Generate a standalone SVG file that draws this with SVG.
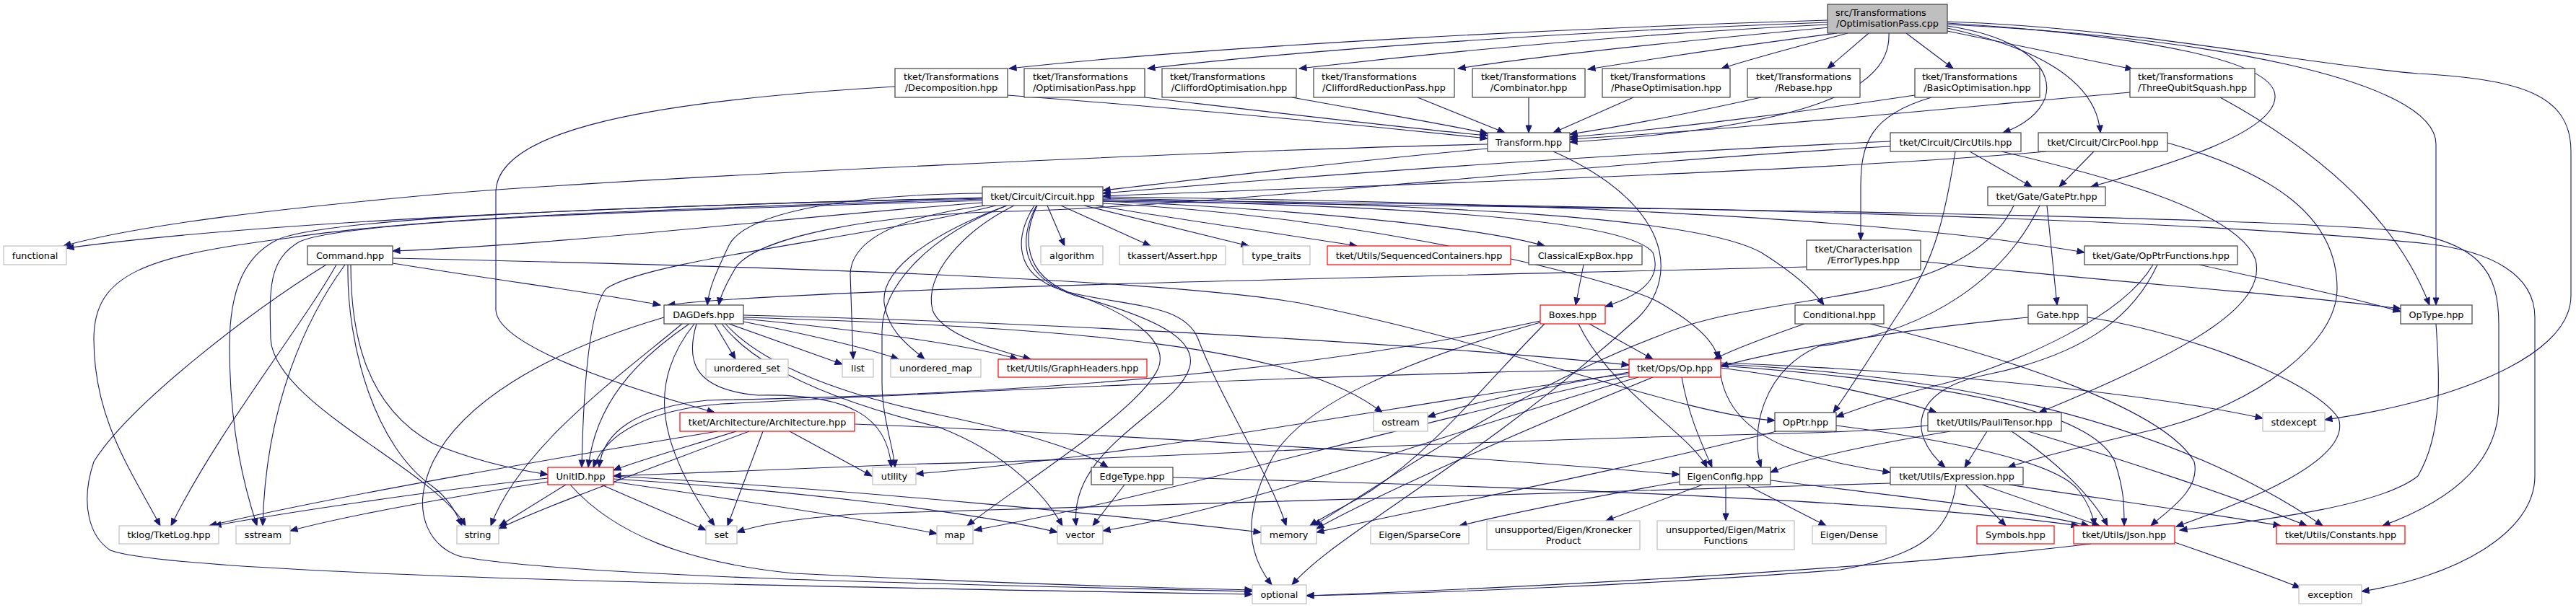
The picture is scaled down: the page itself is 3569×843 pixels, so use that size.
<svg xmlns="http://www.w3.org/2000/svg" width="3569" height="843" viewBox="0 0 3569 843">
<defs>
<marker id="arr" markerWidth="10" markerHeight="8" refX="10" refY="4" orient="auto" markerUnits="userSpaceOnUse" overflow="visible"><path d="M0,0 L10,4 L0,8 z" fill="#191970" stroke="#191970" stroke-width="1"/></marker>
<style>
text{font-family:"DejaVu Sans","Liberation Sans",sans-serif;font-size:12.8px;text-anchor:middle;fill:#000}
text.l{text-anchor:start}
g rect{fill:#fff;stroke:#404040;stroke-width:1.2}
g.g rect{stroke:#bfbfbf}
g.r rect{stroke:#ff0000}
#edges path{fill:none;stroke:#191970;stroke-width:1.1;marker-end:url(#arr)}
</style>
</defs>
<rect x="0" y="0" width="3569" height="843" style="fill:#fff;stroke:none"/>
<g id="edges">
<path d="M2532,28 C2200,38 1700,62 1398,95"/>
<path d="M2532,31 C2150,45 1800,70 1590,95"/>
<path d="M2532,34 C2250,48 2000,72 1800,95"/>
<path d="M2535,38 C2350,55 2150,75 2020,95"/>
<path d="M2545,46 C2420,62 2300,80 2200,96"/>
<path d="M2560,46 C2500,62 2430,80 2385,95"/>
<path d="M2589,46 L2532,95"/>
<path d="M2641,46 L2706,95"/>
<path d="M2698,43 L2955,96"/>
<path d="M2617,46 C2620,120 2520,175 2175,197"/>
<path d="M2698,36 C2860,60 2870,150 2775,184"/>
<path d="M2698,39 C2840,70 2905,120 2910,184"/>
<path d="M2698,32 C2980,50 3155,85 3152,135 C3150,185 3000,230 2897,259"/>
<path d="M2698,34 C3050,50 3375,110 3375,200 L3375,423"/>
<path d="M2698,30 C2950,38 3200,90 3350,102 C3490,110 3562,130 3562,210 L3562,410 C3562,500 3380,560 3221,582"/>
<path d="M1396,132 C1700,155 1900,175 2061,192"/>
<path d="M1586,135 C1800,160 1950,178 2061,188"/>
<path d="M1790,135 C1900,155 2000,172 2061,185"/>
<path d="M1964,135 L2085,184"/>
<path d="M2118,135 L2118,184"/>
<path d="M2263,135 L2152,184"/>
<path d="M2440,135 C2350,155 2250,175 2175,186"/>
<path d="M2653,132 C2500,155 2300,180 2175,190"/>
<path d="M2951,128 C2700,150 2400,180 2175,193"/>
<path d="M1240,120 C900,140 690,180 687,265 L687,430 C690,480 860,535 990,572"/>
<path d="M2676,135 C2590,160 2578,200 2578,260 L2578,333"/>
<path d="M3076,135 C3250,230 3330,330 3366,423"/>
<path d="M2061,206 C1850,225 1650,250 1528,264"/>
<path d="M2061,200 C1700,208 900,245 600,270 C400,288 200,310 88,341"/>
<path d="M2152,210 C2310,280 2330,380 2270,440 C2050,640 1850,740 1790,811"/>
<path d="M2619,196 C2200,215 1800,245 1528,268"/>
<path d="M2835,210 C2500,240 1800,260 1528,272"/>
<path d="M1361,281 C1100,300 800,338 544,348"/>
<path d="M1361,268 C1150,270 1030,300 1010,340 C992,378 982,400 980,423"/>
<path d="M1361,275 C1000,282 400,302 92,344"/>
<path d="M1451,285 L1475,341"/>
<path d="M1470,285 L1594,341"/>
<path d="M1502,285 L1730,341"/>
<path d="M1518,285 C1620,302 1760,322 1880,341"/>
<path d="M1528,279 C1800,290 2050,315 2140,341"/>
<path d="M1528,277 C1900,285 2250,300 2290,350 C2305,390 2265,412 2224,425"/>
<path d="M1528,275 C2000,284 2350,300 2440,350 C2480,375 2510,400 2527,423"/>
<path d="M1528,273 C2100,280 2600,300 2888,350"/>
<path d="M1528,279 C2200,288 3000,296 3300,318 C3440,330 3462,380 3462,450 L3462,560 C3462,650 3380,700 3301,729"/>
<path d="M1528,277 C2200,284 3000,300 3363,338 C3450,348 3512,380 3512,440 L3512,660 C3512,740 3400,800 3272,820"/>
<path d="M1361,276 C1000,288 600,298 400,330 C200,355 130,380 130,470 C130,580 180,650 222,729"/>
<path d="M1361,274 C900,286 450,300 383,333 C340,355 318,400 318,480 C318,600 340,680 356,729"/>
<path d="M1361,278 C900,292 480,305 415,335 C372,360 373,400 375,470 C380,560 600,650 645,729"/>
<path d="M1380,285 C1200,330 900,360 840,400 C815,430 808,550 806,648"/>
<path d="M1365,285 C1250,300 1180,330 1178,380 L1182,498"/>
<path d="M1395,285 C1300,320 1220,370 1225,420 C1230,460 1260,480 1281,498"/>
<path d="M1405,285 C1335,320 1280,380 1292,430 C1305,465 1380,485 1428,498"/>
<path d="M1433,285 C1405,330 1405,380 1470,402 C1560,430 1620,470 1605,510 C1580,570 1400,680 1340,729"/>
<path d="M1436,285 C1410,335 1415,385 1490,410 C1600,440 1660,470 1648,510 C1630,570 1480,620 1491,729"/>
<path d="M1437,285 C1415,330 1420,380 1480,405 C1560,425 1640,420 1660,470 C1690,550 1760,660 1782,729"/>
<path d="M1395,285 C1280,330 1222,400 1222,460 L1222,530 C1222,580 1238,620 1240,648"/>
<path d="M1528,282 C1900,300 2250,390 2300,420 C2360,455 2378,480 2380,498"/>
<path d="M544,365 C700,390 850,410 915,423"/>
<path d="M466,367 C420,450 300,600 237,729"/>
<path d="M478,367 C425,440 368,560 364,729"/>
<path d="M452,367 C350,430 180,560 130,640 C110,700 125,745 153,763 C250,800 1200,815 1735,824"/>
<path d="M486,367 C486,450 500,560 600,615 C660,640 720,652 759,658"/>
<path d="M482,367 C480,480 520,620 600,675 C620,690 632,710 640,729"/>
<path d="M544,358 C1000,368 1600,385 1800,420 C2100,480 2330,575 2459,583"/>
<path d="M990,449 L1019,498"/>
<path d="M1010,449 L1167,505"/>
<path d="M1030,446 C1100,460 1200,482 1245,498"/>
<path d="M1030,442 C1200,458 1350,480 1410,498"/>
<path d="M1030,437 C1500,448 2000,480 2257,506"/>
<path d="M1005,449 C1060,510 1180,550 1300,575 C1420,600 1500,625 1535,648"/>
<path d="M955,449 C880,500 825,560 815,648"/>
<path d="M945,449 C860,520 720,620 680,729"/>
<path d="M962,449 C905,520 900,600 990,729"/>
<path d="M965,449 C950,500 960,540 1050,548 C1180,545 1230,580 1235,648"/>
<path d="M920,440 C750,490 640,560 600,640 C565,715 600,762 640,772 C800,800 1300,810 1735,820"/>
<path d="M1000,449 C1050,515 1170,560 1300,592 C1400,630 1450,690 1472,729"/>
<path d="M1030,440 C1500,455 1800,480 1915,572"/>
<path d="M2503,370 C1900,385 1100,400 925,423"/>
<path d="M2661,362 C2900,390 3150,405 3326,428"/>
<path d="M2194,367 L2183,423"/>
<path d="M2836,285 L2850,423"/>
<path d="M2826,285 C2780,380 2680,460 2520,480 C2440,515 2425,600 2440,648"/>
<path d="M2790,285 C2720,430 2450,400 2300,465 C2100,540 1900,680 1820,729"/>
<path d="M2729,210 L2815,259"/>
<path d="M2619,203 C2200,225 1700,285 1400,293 C1200,298 1050,330 1020,370 C1005,395 998,410 996,423"/>
<path d="M2709,210 C2695,300 2680,360 2640,420 C2600,480 2570,530 2540,572"/>
<path d="M2773,210 C2900,240 3100,290 3125,360 C3140,420 3050,480 2825,572"/>
<path d="M2901,210 L2853,259"/>
<path d="M3003,198 C3150,240 3238,300 3238,400 C3238,480 3120,560 3000,592 C2900,615 2830,632 2782,648"/>
<path d="M3047,367 C3150,390 3250,410 3326,432"/>
<path d="M2983,367 C2940,440 2800,500 2700,530 C2620,550 2580,565 2544,578"/>
<path d="M2989,367 C2960,430 2900,490 2750,520 C2650,540 2640,600 2695,648"/>
<path d="M2810,440 C2600,460 2450,490 2384,508"/>
<path d="M2892,440 C3000,455 3200,520 3240,580 C3260,640 3100,700 3015,730"/>
<path d="M2500,449 C2440,470 2400,485 2375,498"/>
<path d="M2591,449 C2800,500 3000,570 3040,640 C3050,680 3000,710 2980,729"/>
<path d="M2202,449 L2290,498"/>
<path d="M2187,449 C2230,540 2340,600 2365,648"/>
<path d="M2134,445 C1700,540 1200,550 980,555 C880,565 835,600 830,648"/>
<path d="M2140,449 C2050,540 1990,620 1900,680 C1860,705 1835,715 1815,729"/>
<path d="M2134,447 C1950,500 1800,560 1760,640 C1720,720 1730,770 1762,811"/>
<path d="M2257,516 C2150,535 2050,555 1978,578"/>
<path d="M2330,523 C2340,580 2360,620 2372,648"/>
<path d="M2384,520 C2400,620 2530,640 2619,655"/>
<path d="M2384,510 C2500,525 2620,550 2683,572"/>
<path d="M2384,507 C2700,530 2900,570 2930,640 C2943,680 2943,700 2943,729"/>
<path d="M2384,505 C2700,520 3000,580 3218,729"/>
<path d="M2384,503 C2700,515 3000,550 3135,580"/>
<path d="M2257,518 C2000,550 1600,630 1269,657"/>
<path d="M2257,512 C1800,520 1300,545 1000,560 C900,568 840,600 822,648"/>
<path d="M2257,521 C1900,600 1600,690 1350,735"/>
<path d="M2270,523 C2000,600 1750,700 1528,736"/>
<path d="M2290,523 C2100,600 1900,690 1824,733"/>
<path d="M2702,598 C2600,615 2500,635 2453,655"/>
<path d="M2753,598 L2722,648"/>
<path d="M2787,598 C2850,640 2900,690 2920,729"/>
<path d="M2810,598 C2950,640 3100,690 3196,729"/>
<path d="M2671,590 C2600,598 2500,601 2400,603 C1900,615 1500,640 1280,643 C1100,650 950,655 850,660"/>
<path d="M2746,672 L2909,729"/>
<path d="M2723,672 L2779,729"/>
<path d="M2783,672 C2900,690 3050,710 3160,729"/>
<path d="M2710,672 C2700,740 2660,770 2550,790 C2300,810 2000,822 1810,826"/>
<path d="M2619,670 C2000,690 1500,700 1200,712 C1100,718 1050,728 1021,738"/>
<path d="M2327,668 C2200,690 2100,710 2022,729"/>
<path d="M2359,672 L2225,722"/>
<path d="M2391,672 L2391,722"/>
<path d="M2419,672 L2530,729"/>
<path d="M2453,666 C2650,690 2820,710 2894,729"/>
<path d="M2544,590 C2700,610 2850,640 2880,680 C2895,700 2900,715 2902,729"/>
<path d="M2461,598 C2300,640 2000,700 1824,738"/>
<path d="M1020,598 C950,620 880,640 850,652"/>
<path d="M1038,598 C900,650 760,700 691,733"/>
<path d="M1057,598 L1008,729"/>
<path d="M994,598 C800,630 450,690 290,729"/>
<path d="M1094,598 L1208,660"/>
<path d="M1184,588 C1500,600 2000,630 2327,658"/>
<path d="M759,663 C600,680 400,710 296,729"/>
<path d="M759,668 C620,690 480,715 402,736"/>
<path d="M784,672 L692,729"/>
<path d="M833,672 L978,735"/>
<path d="M790,672 C850,740 950,780 1100,795 C1400,810 1600,815 1735,818"/>
<path d="M850,668 C1000,690 1200,720 1298,740"/>
<path d="M850,664 C1100,680 1350,710 1465,738"/>
<path d="M850,660 C1200,680 1550,715 1747,738"/>
<path d="M1558,672 L1514,729"/>
<path d="M1625,662 C2000,672 2600,690 2880,729"/>
<path d="M2897,754 C2600,790 2100,815 1810,826"/>
<path d="M3013,752 C3080,775 3150,800 3187,815"/>
<path d="M3375,449 C3380,520 3385,600 3350,660 C3300,700 3150,720 3020,735"/>
</g>
<g id="node-root"><rect x="2532" y="6" width="166" height="40" style="fill:#bfbfbf"/><text class="l" x="2543" y="22">src/Transformations</text><text x="2615" y="37">/OptimisationPass.cpp</text></g>
<g id="node-decomposition"><rect x="1240" y="95" width="156" height="40"/><text x="1318" y="111">tket/Transformations</text><text x="1318" y="126">/Decomposition.hpp</text></g>
<g id="node-optpass"><rect x="1419" y="95" width="167" height="40"/><text class="l" x="1431" y="111">tket/Transformations</text><text x="1502.5" y="126">/OptimisationPass.hpp</text></g>
<g id="node-cliffopt"><rect x="1610" y="95" width="186" height="40"/><text class="l" x="1621" y="111">tket/Transformations</text><text x="1703" y="126">/CliffordOptimisation.hpp</text></g>
<g id="node-cliffred"><rect x="1820" y="95" width="195" height="40"/><text class="l" x="1831" y="111">tket/Transformations</text><text x="1917.5" y="126">/CliffordReductionPass.hpp</text></g>
<g id="node-combinator"><rect x="2040" y="95" width="156" height="40"/><text x="2118" y="111">tket/Transformations</text><text x="2118" y="126">/Combinator.hpp</text></g>
<g id="node-phaseopt"><rect x="2220" y="95" width="177" height="40"/><text class="l" x="2231" y="111">tket/Transformations</text><text x="2308.5" y="126">/PhaseOptimisation.hpp</text></g>
<g id="node-rebase"><rect x="2421" y="95" width="156" height="40"/><text x="2499" y="111">tket/Transformations</text><text x="2499" y="126">/Rebase.hpp</text></g>
<g id="node-basicopt"><rect x="2653" y="95" width="173" height="40"/><text class="l" x="2663" y="111">tket/Transformations</text><text x="2739.5" y="126">/BasicOptimisation.hpp</text></g>
<g id="node-threequbit"><rect x="2951" y="95" width="173" height="40"/><text class="l" x="2962" y="111">tket/Transformations</text><text x="3037.5" y="126">/ThreeQubitSquash.hpp</text></g>
<g id="node-transform"><rect x="2061" y="184" width="114" height="26"/><text x="2118" y="201.5">Transform.hpp</text></g>
<g id="node-circutils"><rect x="2619" y="184" width="181" height="26"/><text x="2709.5" y="201.5">tket/Circuit/CircUtils.hpp</text></g>
<g id="node-circpool"><rect x="2824" y="184" width="179" height="26"/><text x="2913.5" y="201.5">tket/Circuit/CircPool.hpp</text></g>
<g id="node-circuit"><rect x="1361" y="259" width="167" height="26"/><text x="1444.5" y="276.5">tket/Circuit/Circuit.hpp</text></g>
<g id="node-gateptr"><rect x="2754" y="259" width="163" height="26"/><text x="2835.5" y="276.5">tket/Gate/GatePtr.hpp</text></g>
<g id="node-functional" class="g"><rect x="5" y="341" width="87" height="26"/><text x="48.5" y="358.5">functional</text></g>
<g id="node-command"><rect x="426" y="341" width="118" height="26"/><text x="485" y="358.5">Command.hpp</text></g>
<g id="node-algorithm" class="g"><rect x="1442" y="341" width="86" height="26"/><text x="1485" y="358.5">algorithm</text></g>
<g id="node-assert" class="g"><rect x="1551" y="341" width="147" height="26"/><text x="1624.5" y="358.5">tkassert/Assert.hpp</text></g>
<g id="node-typetraits" class="g"><rect x="1722" y="341" width="93" height="26"/><text x="1768.5" y="358.5">type_traits</text></g>
<g id="node-seqcont" class="r"><rect x="1839" y="341" width="254" height="26"/><text x="1966" y="358.5">tket/Utils/SequencedContainers.hpp</text></g>
<g id="node-classexpbox"><rect x="2118" y="341" width="157" height="26"/><text x="2196.5" y="358.5">ClassicalExpBox.hpp</text></g>
<g id="node-errortypes"><rect x="2503" y="333" width="158" height="41"/><text x="2582" y="350">tket/Characterisation</text><text x="2582" y="365">/ErrorTypes.hpp</text></g>
<g id="node-opptrfunctions"><rect x="2888" y="341" width="212" height="26"/><text x="2994" y="358.5">tket/Gate/OpPtrFunctions.hpp</text></g>
<g id="node-dagdefs"><rect x="920" y="423" width="110" height="26"/><text x="975" y="440.5">DAGDefs.hpp</text></g>
<g id="node-boxes" class="r"><rect x="2134" y="423" width="90" height="26"/><text x="2179" y="440.5">Boxes.hpp</text></g>
<g id="node-conditional"><rect x="2487" y="423" width="123" height="26"/><text x="2548.5" y="440.5">Conditional.hpp</text></g>
<g id="node-gate"><rect x="2810" y="423" width="82" height="26"/><text x="2851" y="440.5">Gate.hpp</text></g>
<g id="node-optype"><rect x="3326" y="423" width="99" height="26"/><text x="3375.5" y="440.5">OpType.hpp</text></g>
<g id="node-unordered-set" class="g"><rect x="978" y="498" width="114" height="25"/><text x="1035" y="515">unordered_set</text></g>
<g id="node-list" class="g"><rect x="1167" y="498" width="43" height="25"/><text x="1188.5" y="515">list</text></g>
<g id="node-unordered-map" class="g"><rect x="1234" y="498" width="125" height="25"/><text x="1296.5" y="515">unordered_map</text></g>
<g id="node-graphheaders" class="r"><rect x="1383" y="498" width="206" height="25"/><text x="1486" y="515">tket/Utils/GraphHeaders.hpp</text></g>
<g id="node-op" class="r"><rect x="2257" y="498" width="127" height="25"/><text x="2320.5" y="515">tket/Ops/Op.hpp</text></g>
<g id="node-architecture" class="r"><rect x="942" y="572" width="242" height="26"/><text x="1063" y="589.5">tket/Architecture/Architecture.hpp</text></g>
<g id="node-ostream" class="g"><rect x="1903" y="572" width="75" height="26"/><text x="1940.5" y="589.5">ostream</text></g>
<g id="node-opptr"><rect x="2459" y="572" width="85" height="26"/><text x="2501.5" y="589.5">OpPtr.hpp</text></g>
<g id="node-paulitensor"><rect x="2671" y="572" width="185" height="26"/><text x="2763.5" y="589.5">tket/Utils/PauliTensor.hpp</text></g>
<g id="node-stdexcept" class="g"><rect x="3135" y="572" width="86" height="26"/><text x="3178" y="589.5">stdexcept</text></g>
<g id="node-unitid" class="r"><rect x="759" y="648" width="91" height="24"/><text x="804.5" y="664.5">UnitID.hpp</text></g>
<g id="node-utility" class="g"><rect x="1209" y="648" width="60" height="24"/><text x="1239" y="664.5">utility</text></g>
<g id="node-edgetype"><rect x="1512" y="648" width="113" height="24"/><text x="1568.5" y="664.5">EdgeType.hpp</text></g>
<g id="node-eigenconfig"><rect x="2327" y="648" width="126" height="24"/><text x="2390" y="664.5">EigenConfig.hpp</text></g>
<g id="node-expression"><rect x="2619" y="648" width="184" height="24"/><text x="2711" y="664.5">tket/Utils/Expression.hpp</text></g>
<g id="node-tketlog" class="g"><rect x="165" y="729" width="138" height="25"/><text x="234" y="746">tklog/TketLog.hpp</text></g>
<g id="node-sstream" class="g"><rect x="327" y="729" width="75" height="25"/><text x="364.5" y="746">sstream</text></g>
<g id="node-string" class="g"><rect x="633" y="729" width="58" height="25"/><text x="662" y="746">string</text></g>
<g id="node-set" class="g"><rect x="978" y="729" width="43" height="25"/><text x="999.5" y="746">set</text></g>
<g id="node-map" class="g"><rect x="1298" y="729" width="50" height="25"/><text x="1323" y="746">map</text></g>
<g id="node-vector" class="g"><rect x="1465" y="729" width="63" height="25"/><text x="1496.5" y="746">vector</text></g>
<g id="node-memory" class="g"><rect x="1747" y="729" width="77" height="25"/><text x="1785.5" y="746">memory</text></g>
<g id="node-sparsecore" class="g"><rect x="1899" y="729" width="136" height="25"/><text x="1967" y="746">Eigen/SparseCore</text></g>
<g id="node-kronecker" class="g"><rect x="2060" y="722" width="212" height="40"/><text x="2166" y="738.5">unsupported/Eigen/Kronecker</text><text x="2166" y="753.5">Product</text></g>
<g id="node-matrixfunctions" class="g"><rect x="2296" y="722" width="190" height="40"/><text x="2391" y="738.5">unsupported/Eigen/Matrix</text><text x="2391" y="753.5">Functions</text></g>
<g id="node-dense" class="g"><rect x="2511" y="729" width="102" height="25"/><text x="2562" y="746">Eigen/Dense</text></g>
<g id="node-symbols" class="r"><rect x="2739" y="729" width="107" height="25"/><text x="2792.5" y="746">Symbols.hpp</text></g>
<g id="node-json" class="r"><rect x="2873" y="729" width="140" height="25"/><text x="2943" y="746">tket/Utils/Json.hpp</text></g>
<g id="node-constants" class="r"><rect x="3154" y="729" width="178" height="25"/><text x="3243" y="746">tket/Utils/Constants.hpp</text></g>
<g id="node-optional" class="g"><rect x="1735" y="811" width="75" height="26"/><text x="1772.5" y="828.5">optional</text></g>
<g id="node-exception" class="g"><rect x="3185" y="811" width="87" height="26"/><text x="3228.5" y="828.5">exception</text></g>
</svg>
